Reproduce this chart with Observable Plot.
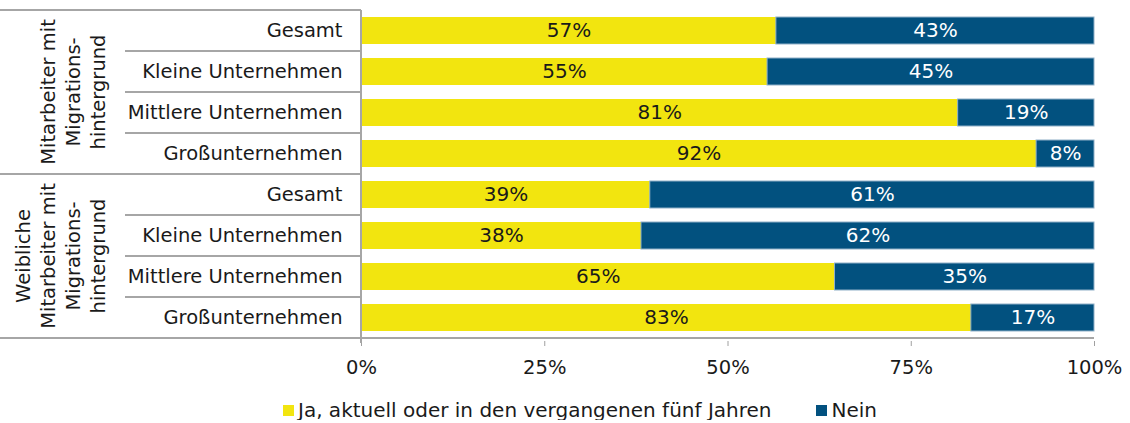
<!DOCTYPE html>
<html><head><meta charset="utf-8">
<script src="https://cdn.jsdelivr.net/npm/d3@7"></script>
<script src="https://cdn.jsdelivr.net/npm/@observablehq/plot@0.6"></script>
<style>
body{margin:0;background:#fff;font-family:"DejaVu Sans",Verdana,sans-serif;}
#legend{display:flex;justify-content:center;gap:45px;font-size:20px;color:#1a1a1a;margin-top:10px;padding-left:30px;line-height:20px;}
#legend span.item{display:flex;align-items:center;}
#legend i{display:inline-block;width:11px;height:11px;margin-right:4px;}
</style>
</head><body><div id="chart"></div><div id="legend"></div>
<script>
const groupLines = [["Mitarbeiter mit","Migrations-","hintergrund"],["Weibliche","Mitarbeiter mit","Migrations-","hintergrund"]];
const categories = ["Gesamt","Kleine Unternehmen","Mittlere Unternehmen","Großunternehmen"];
const jaValues = [56.6,55.4,81.4,92.1,39.4,38.2,64.6,83.2];
const seriesNames = ["Ja, aktuell oder in den vergangenen fünf Jahren","Nein"];
const seriesColors = ["#f2e50f","#02517f"];
const xTicks = [0,25,50,75,100];

const rows = [];
groupLines.forEach((g, gi) => categories.forEach((c, ci) => rows.push({key: gi + "|" + c, ja: jaValues[gi*4 + ci]})));
const data = rows.flatMap(r => [
  {key: r.key, series: seriesNames[0], x1: 0, x2: r.ja, value: r.ja},
  {key: r.key, series: seriesNames[1], x1: r.ja, x2: 100, value: 100 - r.ja}
]);
const yDomain = rows.map(r => r.key);

const plot = Plot.plot({
  width: 1130, height: 390,
  marginLeft: 361, marginRight: 36, marginTop: 8, marginBottom: 49,
  style: {fontFamily: "DejaVu Sans", fontSize: "19.5px", color: "#1a1a1a", background: "white"},
  x: {domain: [0, 100]},
  y: {domain: yDomain, paddingInner: 0.33, paddingOuter: 0.165},
  color: {domain: seriesNames, range: seriesColors},
  marks: [
    Plot.barX(data, {x1: "x1", x2: "x2", y: "key", fill: "series"}),
    Plot.barX(data.filter(d => d.series === seriesNames[1]), {x1: "x1", x2: "x2", y: "key", fill: "none", stroke: "#8fb0c8", strokeWidth: 1}),
    Plot.text(data.filter(d => d.series === seriesNames[0]), {x: d => (d.x1 + d.x2) / 2, y: "key", text: d => Math.round(d.value) + "%", fill: "#1a1a1a", fontSize: 20}),
    Plot.text(data.filter(d => d.series === seriesNames[1]), {x: d => (d.x1 + d.x2) / 2, y: "key", text: d => Math.round(d.value) + "%", fill: "white", fontSize: 20}),
    Plot.axisX({ticks: xTicks, tickFormat: d => d + "%", tickSize: 5, tickPadding: 14, stroke: "#a0a0a0", fill: "#1a1a1a", label: null}),
    Plot.axisY({tickSize: 0, tickPadding: 19, tickFormat: k => k.split("|")[1], fill: "#1a1a1a", label: null})
  ]
});
document.getElementById("chart").appendChild(plot);

// separators, axis lines, group labels
const svg = d3.select(plot);
const ys = plot.scale("y"), xs = plot.scale("x");
const gap = (ys.step - ys.bandwidth) / 2;
const bounds = yDomain.map(k => ys.apply(k) - gap);
bounds.push(ys.apply(yDomain[yDomain.length - 1]) + ys.bandwidth + gap);
const x0 = xs.apply(0), x100 = xs.apply(100);
const lineColor = "#a6a6a6";
const g = svg.append("g").attr("stroke", lineColor).attr("stroke-width", 1.2).attr("shape-rendering", "crispEdges");
bounds.forEach((b, i) => {
  g.append("line").attr("x1", i % 4 === 0 ? 0 : 125).attr("x2", x0).attr("y1", b).attr("y2", b);
});
g.append("line").attr("x1", x0).attr("x2", x0).attr("y1", bounds[0]).attr("y2", bounds[8] + 5);
g.append("line").attr("x1", x0).attr("x2", x100).attr("y1", bounds[8]).attr("y2", bounds[8]);

const groupCenters = [73, 61];
groupLines.forEach((lines, gi) => {
  const cy = (bounds[gi*4] + bounds[gi*4 + 4]) / 2;
  const spacing = 25;
  lines.forEach((t, li) => {
    const cx = groupCenters[gi] + (li - (lines.length - 1) / 2) * spacing;
    svg.append("text").attr("transform", `translate(${cx},${cy}) rotate(-90)`)
      .attr("text-anchor", "middle").attr("dominant-baseline", "central")
      .attr("font-family", "DejaVu Sans").attr("font-size", 19.5).attr("fill", "#1a1a1a").text(t);
  });
});

// legend
const legend = d3.select("#legend");
seriesNames.forEach((s, i) => {
  const it = legend.append("span").attr("class", "item");
  it.append("i").style("background", seriesColors[i]);
  it.append("span").text(s);
});
</script>
</body></html>
